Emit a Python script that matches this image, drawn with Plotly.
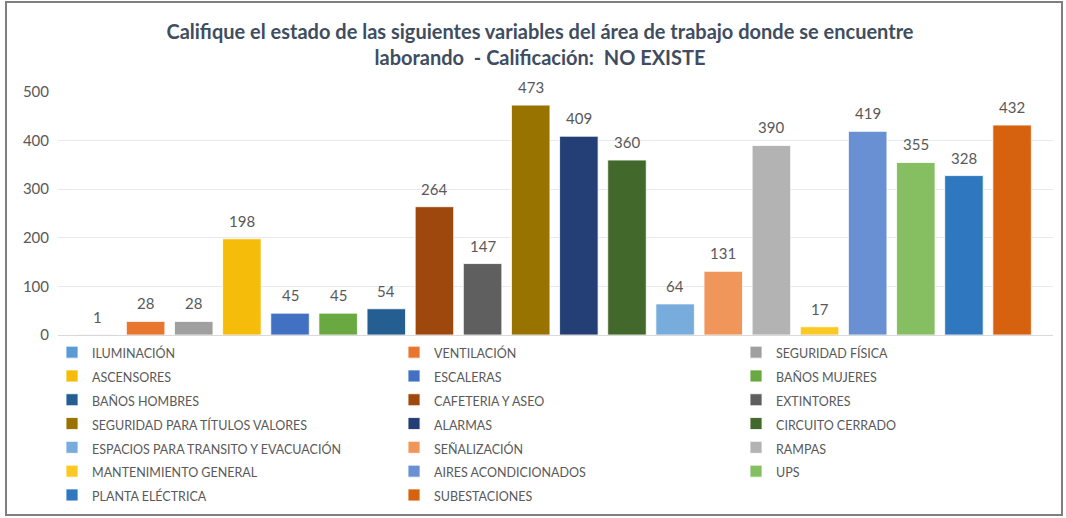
import plotly.graph_objects as go

categories = ["ILUMINACIÓN", "VENTILACIÓN", "SEGURIDAD FÍSICA", "ASCENSORES", "ESCALERAS",
              "BAÑOS MUJERES", "BAÑOS HOMBRES", "CAFETERIA Y ASEO", "EXTINTORES",
              "SEGURIDAD PARA TÍTULOS VALORES", "ALARMAS", "CIRCUITO CERRADO",
              "ESPACIOS PARA TRANSITO Y EVACUACIÓN", "SEÑALIZACIÓN", "RAMPAS",
              "MANTENIMIENTO GENERAL", "AIRES ACONDICIONADOS", "UPS", "PLANTA ELÉCTRICA",
              "SUBESTACIONES"]
values = [1, 28, 28, 198, 45, 45, 54, 264, 147, 473, 409, 360, 64, 131, 390, 17, 419, 355, 328, 432]
colors = ["#5B9BD5", "#E8762F", "#A0A0A0", "#F5BD0A", "#4270C2", "#6AA842", "#255E91", "#9E480E",
          "#5F5F5F", "#997300", "#243F75", "#43682B", "#78ACDC", "#F1965A", "#B3B3B3",
          "#FBC923", "#6890D2", "#86BE62", "#2F78C0", "#D6620F"]

title_text = ("Califique el estado de las siguientes variables del área de trabajo donde se encuentre"
              "<br>laborando  - Calificación:  NO EXISTE")

font_family = "Lato, 'Open Sans', sans-serif"
txt_color = "#595959"

fig = go.Figure()
for cat, val, col in zip(categories, values, colors):
    fig.add_trace(go.Bar(
        x=[cat], y=[val],
        name="<span style='font-size:12.5px'>" + cat + "</span>",
        marker=dict(color=col, line=dict(color="rgba(255,255,255,0.8)", width=1)),
        width=0.8,
        hoverinfo="x+y",
    ))

annotations = [dict(x=cat, y=val, xref="x", yref="y", text=str(val), showarrow=False,
                    yanchor="bottom", xanchor="center", yshift=7,
                    font=dict(size=15, color=txt_color, family=font_family))
               for cat, val in zip(categories, values)]

fig.update_layout(
    width=1066, height=518,
    margin=dict(l=58, r=13, t=92, b=183, autoexpand=False),
    paper_bgcolor="white", plot_bgcolor="white",
    barmode="overlay",
    title=dict(text=title_text, x=540 / 1066, xref="container", xanchor="center",
               y=0.925, yref="container", yanchor="top",
               font=dict(family=font_family, size=20, color="#3F4D60", weight="bold")),
    font=dict(family=font_family, color=txt_color),
    showlegend=True,
    legend=dict(orientation="h", x=-0.006, xanchor="left", y=-0.001, yanchor="top",
                entrywidth=297, entrywidthmode="pixels", traceorder="normal",
                font=dict(size=16, color=txt_color, family=font_family),
                itemwidth=30, bgcolor="rgba(0,0,0,0)"),
    xaxis=dict(range=[-0.82, 19.85], showticklabels=False, showgrid=False, zeroline=False,
               showline=True, linecolor="#D9D9D9", linewidth=1, fixedrange=True),
    yaxis=dict(range=[0, 500], dtick=100, showgrid=True, gridcolor="#E6E9EE", gridwidth=1,
               zeroline=False, tickfont=dict(size=15, color=txt_color, family=font_family),
               ticks="", ticklabelstandoff=8),
    annotations=annotations,
    shapes=[dict(type="rect", xref="paper", yref="paper",
                 x0=(6 - 58) / 995, x1=(1062 - 58) / 995,
                 y0=-(515 - 335) / 243, y1=(335 - 2) / 243,
                 line=dict(color="#7F7F7F", width=2), fillcolor="rgba(0,0,0,0)", layer="below")],
)

fig.write_html("out.html", config={"displayModeBar": False},
               post_script="document.body.style.margin='0px';")
